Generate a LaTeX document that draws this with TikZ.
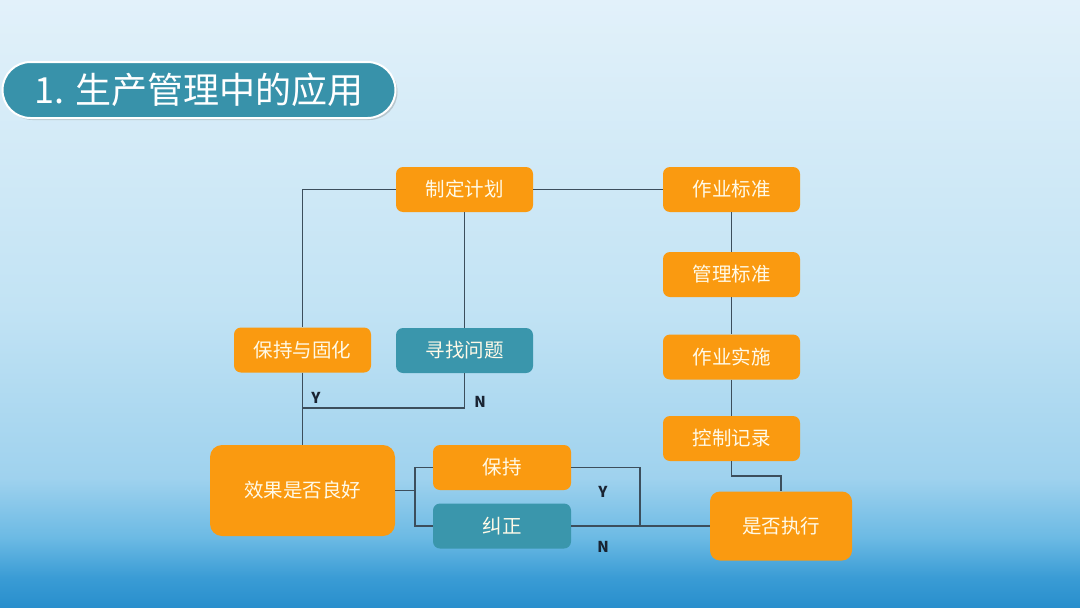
\documentclass[tikz,border=0pt]{standalone}
\usepackage{fontspec}
\setmainfont{Noto Sans CJK SC}
\usetikzlibrary{shadows}
\definecolor{orangec}{RGB}{250,154,16}
\definecolor{tealc}{RGB}{58,150,172}
\definecolor{titlec}{RGB}{56,146,170}
\definecolor{linec}{RGB}{60,78,92}
\definecolor{nodetext}{RGB}{255,250,232}
\definecolor{labelc}{RGB}{25,35,50}
\definecolor{bg0}{RGB}{40,142,204}
\definecolor{bg1}{RGB}{58,156,213}
\definecolor{bg2}{RGB}{108,186,228}
\definecolor{bg3}{RGB}{159,210,238}
\definecolor{bg4}{RGB}{194,227,244}
\definecolor{bg5}{RGB}{226,241,250}
\pgfdeclareverticalshading{bgshade}{100bp}{color(0bp)=(bg0); color(25bp)=(bg0); color(27.5bp)=(bg1); color(30.8bp)=(bg2); color(35.7bp)=(bg3); color(49.7bp)=(bg4); color(75bp)=(bg5); color(100bp)=(bg5)}
\begin{document}
\begin{tikzpicture}[x=1pt,y=-1pt,
  box/.style={rounded corners=7pt, minimum width=137pt, minimum height=45pt, inner sep=0pt,
    font=\fontsize{19.5}{22}\selectfont, text=nodetext},
  orangebox/.style={box, fill=orangec},
  tealbox/.style={box, fill=tealc},
  conn/.style={draw=linec, line width=1.8pt},
  yn/.style={font=\fontsize{15}{17}\selectfont\bfseries, text=labelc},
  titlebox/.style={rounded corners=28pt, minimum width=393pt, minimum height=56pt, inner sep=0pt,
    fill=titlec, draw=white, line width=2pt, drop shadow={shadow xshift=2pt, shadow yshift=-2pt, opacity=0.35},
    font=\fontsize{36}{40}\selectfont, text=white}]
\fill[shading=bgshade] (0,0) rectangle (1080,608);
\useasboundingbox (0,0) rectangle (1080,608);

\node[titlebox] (ttl) at (199,90) {1. 生产管理中的应用};

\node[orangebox] (plan) at (464.5,189.5) {制定计划};
\node[orangebox] (std) at (731.5,189.5) {作业标准};
\node[orangebox] (mstd) at (731.5,274.5) {管理标准};
\node[orangebox] (impl) at (731.5,357) {作业实施};
\node[orangebox] (rec) at (731.5,438.5) {控制记录};
\node[orangebox] (keep) at (302.5,350) {保持与固化};
\node[tealbox] (find) at (464.5,350.5) {寻找问题};
\node[orangebox, minimum width=185pt, minimum height=91pt, rounded corners=12pt] (eff) at (302.5,490.5) {效果是否良好};
\node[orangebox, minimum width=138pt] (hold) at (502,467.5) {保持};
\node[tealbox, minimum width=138pt] (fix) at (502,526) {纠正};
\node[orangebox, minimum width=142pt, minimum height=69pt, rounded corners=10pt] (exec) at (781,526) {是否执行};

\coordinate (yj) at (302.5,408);
\coordinate (bj) at (415,490.5);
\coordinate (yj2) at (640,526);

\draw[conn] (plan.west) -| (keep.north);
\draw[conn] (plan.east) -- (std.west);
\draw[conn] (plan.south) -- (find.north);
\draw[conn] (std.south) -- (mstd.north);
\draw[conn] (mstd.south) -- (impl.north);
\draw[conn] (impl.south) -- (rec.north);
\draw[conn] (rec.south) -- ++(0,15) -| (exec.north);
\draw[conn] (keep.south) -- (eff.north);
\draw[conn] (find.south) |- (yj);
\draw[conn] (eff.east) -- (bj);
\draw[conn] (hold.west) -| (bj) |- (fix.west);
\draw[conn] (hold.east) -| (yj2);
\draw[conn] (fix.east) -- (exec.west);

\node[yn] (ly) at (316,398) {Y};
\node[yn] (ln) at (480,402) {N};
\node[yn] (ly2) at (603,492) {Y};
\node[yn] (ln2) at (603,547) {N};
\end{tikzpicture}
\end{document}
